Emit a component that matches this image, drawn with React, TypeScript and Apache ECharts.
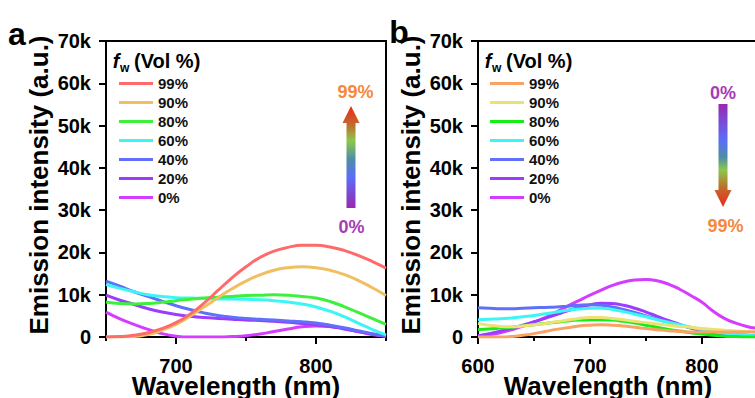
import React, { useEffect, useRef } from "react";
import * as echarts from "echarts";

const wavelengthA = [650, 660, 670, 680, 690, 700, 710, 720, 730, 740, 750, 760, 770, 780, 790, 800, 810, 820, 830, 840, 850];
const wavelengthB = [600, 610, 620, 630, 640, 650, 660, 670, 680, 690, 700, 710, 720, 730, 740, 750, 760, 770, 780, 790, 800, 810, 820, 830, 840, 850];

const fractions = ["99%", "90%", "80%", "60%", "40%", "20%", "0%"];

// Panel a (values in k a.u.)
const a99 = [0, 0.1, 0.4, 1.0, 2.0, 3.4, 5.4, 8.0, 11.0, 14.0, 16.6, 18.8, 20.3, 21.2, 21.7, 21.7, 21.3, 20.5, 19.3, 17.9, 16.3];
const a90 = [0, 0, 0.1, 0.6, 1.6, 3.0, 4.9, 7.1, 9.3, 11.4, 13.2, 14.7, 15.8, 16.4, 16.6, 16.4, 15.8, 14.8, 13.4, 11.7, 9.8];
const a80 = [8.3, 7.9, 7.8, 7.9, 8.2, 8.6, 8.9, 9.2, 9.4, 9.6, 9.8, 9.9, 10.0, 9.9, 9.6, 9.2, 8.4, 7.2, 5.8, 4.4, 3.0];
const a60 = [12.4, 11.5, 10.7, 10.0, 9.6, 9.3, 9.2, 9.1, 9.0, 9.0, 8.9, 8.8, 8.6, 8.3, 7.8, 7.1, 6.1, 4.8, 3.3, 1.8, 0.5];
const a40 = [13.2, 12.0, 10.7, 9.6, 8.5, 7.4, 6.5, 5.7, 5.1, 4.7, 4.4, 4.2, 4.0, 3.8, 3.6, 3.3, 2.8, 2.2, 1.5, 0.8, 0.2];
const a20 = [9.9, 8.7, 7.7, 6.7, 5.9, 5.3, 4.9, 4.6, 4.4, 4.2, 4.0, 3.9, 3.7, 3.5, 3.2, 2.9, 2.5, 1.9, 1.3, 0.7, 0.3];
const a0 = [5.9, 4.3, 3.0, 1.8, 0.8, 0.2, 0, 0, 0, 0.1, 0.3, 0.7, 1.3, 1.9, 2.4, 2.6, 2.5, 2.0, 1.3, 0.6, 0.2];

// Panel b (values in k a.u.)
const b99 = [0, 0, 0, 0.1, 0.4, 0.8, 1.3, 1.8, 2.2, 2.6, 2.8, 2.9, 2.8, 2.6, 2.3, 2.0, 1.7, 1.5, 1.3, 1.2, 1.2, 1.2, 1.2, 1.2, 1.2, 1.2];
const b90 = [3.2, 2.8, 2.5, 2.4, 2.6, 2.9, 3.2, 3.6, 4.0, 4.4, 4.6, 4.6, 4.4, 4.1, 3.7, 3.4, 3.1, 2.8, 2.5, 2.3, 2.0, 1.8, 1.6, 1.4, 1.3, 1.2];
const b80 = [1.8, 1.9, 2.1, 2.3, 2.6, 2.9, 3.2, 3.5, 3.8, 4.0, 4.1, 4.1, 4.0, 3.7, 3.3, 2.8, 2.3, 1.8, 1.4, 1.0, 0.7, 0.4, 0.2, 0.1, 0, 0];
const b60 = [4.1, 4.2, 4.3, 4.5, 4.8, 5.1, 5.5, 5.9, 6.3, 6.6, 6.8, 6.8, 6.5, 6.0, 5.4, 4.8, 4.1, 3.5, 2.9, 2.3, 1.8, 1.3, 0.9, 0.6, 0.4, 0.3];
const b40 = [6.9, 6.8, 6.7, 6.7, 6.8, 6.9, 7.0, 7.1, 7.3, 7.5, 7.6, 7.5, 7.1, 6.5, 5.8, 5.0, 4.2, 3.5, 2.8, 2.2, 1.7, 1.3, 0.9, 0.6, 0.4, 0.3];
const b20 = [0.3, 0.8, 1.4, 2.1, 2.8, 3.6, 4.4, 5.3, 6.2, 7.0, 7.6, 8.0, 7.9, 7.5, 6.8, 5.9, 4.9, 3.9, 3.0, 2.1, 1.4, 0.9, 0.5, 0.3, 0.2, 0.2];
const b0 = [0.2, 0.5, 1.0, 1.7, 2.6, 3.5, 4.6, 5.9, 7.3, 8.6, 9.9, 11.1, 12.2, 13.0, 13.5, 13.6, 13.3, 12.5, 11.3, 9.8, 8.2, 6.1, 4.4, 3.3, 2.5, 2.0];

const colorsA = ["#ff6b6b", "#efbf62", "#3cf03c", "#3cf6f6", "#6070fa", "#9b3cff", "#d43cff"];
const colorsB = ["#f8a264", "#ece274", "#14ee14", "#3cf6f6", "#6070fa", "#9b3cff", "#d43cff"];

const FONT = '"Liberation Sans", Arial, Helvetica, sans-serif';

export default function App() {
  const ref = useRef<HTMLDivElement>(null);

  useEffect(() => {
    if (!ref.current) return;
    const chart = echarts.init(ref.current, undefined, { renderer: "svg" });

    const seriesA = [a99, a90, a80, a60, a40, a20, a0];
    const seriesB = [b99, b90, b80, b60, b40, b20, b0];

    const mkSeries = (vals: number[][], wl: number[], colors: string[], prefix: string, gi: number) =>
      vals.map((v, i) => ({
        name: prefix + fractions[i],
        type: "line",
        xAxisIndex: gi * 2,
        yAxisIndex: gi,
        smooth: true,
        showSymbol: false,
        symbol: "none",
        lineStyle: { width: 3, color: colors[i] },
        itemStyle: { color: colors[i] },
        data: v.map((y, k) => [wl[k], y * 1000]),
        z: 3 + (vals.length - i),
      }));

    const yAxisCfg = (gi: number) => ({
      type: "value",
      gridIndex: gi,
      min: 0,
      max: 70000,
      interval: 10000,
      name: "Emission intensity (a.u.)",
      nameLocation: "middle",
      nameGap: 54,
      nameTextStyle: { fontFamily: FONT, fontWeight: "bold", fontSize: 26, color: "#000", padding: [0, 0, 0, 8] },
      axisLine: { show: true, lineStyle: { color: "#000", width: 2 } },
      axisTick: { show: true, inside: false, length: 7, lineStyle: { color: "#000", width: 2 } },
      splitLine: { show: false },
      axisLabel: {
        margin: 15,
        fontFamily: FONT,
        fontWeight: "bold",
        fontSize: 20,
        color: "#000",
        formatter: (v: number) => (v === 0 ? "0" : v / 1000 + "k"),
      },
    });

    const xMajor = (gi: number, min: number, labels: number[]) => ({
      type: "value",
      gridIndex: gi,
      min,
      max: 850,
      interval: 50,
      name: "Wavelength (nm)",
      nameLocation: "middle",
      nameGap: 39,
      nameMoveOverlap: false,
      nameTextStyle: {
        fontFamily: FONT,
        fontWeight: "bold",
        fontSize: 26,
        lineHeight: 20,
        color: "#000",
        padding: [0, 20, 0, 0],
      },
      axisLine: { show: true, onZero: false, lineStyle: { color: "#000", width: 2 } },
      axisTick: { show: true, length: 7, customValues: labels, lineStyle: { color: "#000", width: 2 } },
      axisLabel: {
        customValues: labels,
        margin: 21,
        lineHeight: 16,
        fontFamily: FONT,
        fontWeight: "bold",
        fontSize: 20,
        color: "#000",
      },
      splitLine: { show: false },
    });

    const xMinor = (gi: number, min: number) => ({
      type: "value",
      gridIndex: gi,
      min,
      max: 850,
      interval: 50,
      position: "bottom",
      axisLine: { show: false, onZero: false },
      axisTick: { show: true, length: 4, lineStyle: { color: "#000", width: 2 } },
      axisLabel: { show: false },
      splitLine: { show: false },
    });

    const legendCfg = (left: number, names: string[]) => ({
      left,
      top: 71,
      orient: "vertical",
      icon: "rect",
      itemWidth: 34,
      itemHeight: 3,
      itemGap: 4,
      selectedMode: false,
      data: names,
      formatter: (n: string) => n.slice(2),
      textStyle: { fontFamily: FONT, fontWeight: "bold", fontSize: 15, color: "#111", lineHeight: 15 },
    });

    const arrowA = [
      [351, 106], [359.5, 123], [355.5, 123], [355.5, 208], [346.5, 208], [346.5, 123], [342.5, 123],
    ];
    const arrowB = [
      [718.5, 104], [727.5, 104], [727.5, 190], [731.5, 190], [723, 207], [714.5, 190], [718.5, 190],
    ];

    const text = (x: number, y: number, t: string, font: string, fill = "#000", align = "center") => ({
      type: "text",
      x,
      y,
      z: 10,
      style: { text: t, font, fill, align, verticalAlign: "middle" },
    });

    const legendTitle = (x: number) => [
      text(x + 4, 61, "f", `italic bold 20px ${FONT}`, "#000", "center"),
      text(x + 8, 68, "w", `bold 12px ${FONT}`, "#000", "left"),
      text(x + 22, 61, "(Vol %)", `bold 20px ${FONT}`, "#000", "left"),
    ];

    const gridCfg = (left: number) => ({
      left,
      top: 41,
      width: 280,
      height: 296,
      show: true,
      borderColor: "#000",
      borderWidth: 2,
      containLabel: false,
      outerBoundsMode: "none",
    });

    chart.setOption({
      animation: false,
      backgroundColor: "#fff",
      grid: [gridCfg(106), gridCfg(478)],
      xAxis: [xMajor(0, 650, [700, 800]), xMinor(0, 650), xMajor(1, 600, [600, 700, 800]), xMinor(1, 600)],
      yAxis: [yAxisCfg(0), yAxisCfg(1)],
      legend: [
        legendCfg(114, fractions.map((f) => "a " + f)),
        legendCfg(485, fractions.map((f) => "b " + f)),
      ],
      series: [
        ...mkSeries(seriesA, wavelengthA, colorsA, "a ", 0),
        ...mkSeries(seriesB, wavelengthB, colorsB, "b ", 1),
      ],
      graphic: [
        text(17, 34, "a", `bold 32px ${FONT}`),
        text(399, 32, "b", `bold 32px ${FONT}`),
        ...legendTitle(112),
        ...legendTitle(484),
        {
          type: "polygon",
          z: 10,
          shape: { points: arrowA },
          style: {
            fill: new echarts.graphic.LinearGradient(0, 0, 0, 1, [
              { offset: 0, color: "#ec2a18" },
              { offset: 0.18, color: "#c2682c" },
              { offset: 0.34, color: "#8cc84a" },
              { offset: 0.52, color: "#4f8ea6" },
              { offset: 0.7, color: "#5a6ef8" },
              { offset: 1, color: "#9a28b0" },
            ]),
          },
        },
        {
          type: "polygon",
          z: 10,
          shape: { points: arrowB },
          style: {
            fill: new echarts.graphic.LinearGradient(0, 0, 0, 1, [
              { offset: 0, color: "#9a28b0" },
              { offset: 0.35, color: "#5a6ef8" },
              { offset: 0.52, color: "#4f8ea6" },
              { offset: 0.64, color: "#8cc84a" },
              { offset: 0.82, color: "#c2682c" },
              { offset: 1, color: "#ec2a18" },
            ]),
          },
        },
        text(355.5, 92, "99%", `bold 18px ${FONT}`, "#f5883c"),
        text(351.5, 227, "0%", `bold 18px ${FONT}`, "#a63cb4"),
        text(723, 93, "0%", `bold 18px ${FONT}`, "#a63cb4"),
        text(725.5, 226, "99%", `bold 18px ${FONT}`, "#f5883c"),
      ],
    });

    return () => chart.dispose();
  }, []);

  return <div ref={ref} style={{ position: "absolute", left: 0, top: 0, width: 755, height: 398 }} />;
}
